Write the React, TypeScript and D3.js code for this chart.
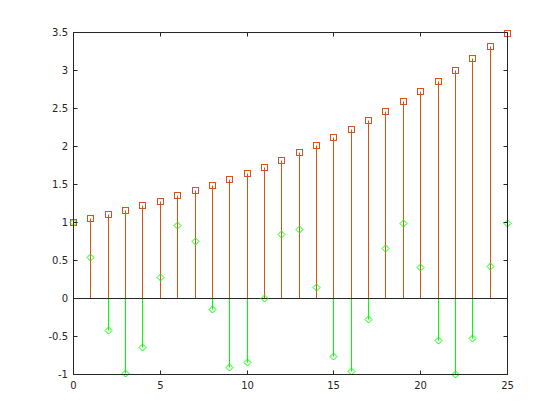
import React from "react";
import * as d3 from "d3";

const xs = [0,1,2,3,4,5,6,7,8,9,10,11,12,13,14,15,16,17,18,19,20,21,22,23,24,25];
const growth = [1.00,1.05,1.11,1.16,1.22,1.28,1.35,1.42,1.49,1.57,1.65,1.73,1.82,1.92,2.01,2.12,2.23,2.34,2.46,2.59,2.72,2.86,3.00,3.16,3.32,3.49];
const wave = [1.00,0.54,-0.42,-0.99,-0.65,0.28,0.96,0.75,-0.15,-0.91,-0.84,0.00,0.84,0.91,0.14,-0.76,-0.96,-0.28,0.66,0.99,0.41,-0.55,-1.00,-0.53,0.42,0.99];
const xTicks = [0,5,10,15,20,25];
const yTicks = [-1,-0.5,0,0.5,1,1.5,2,2.5,3,3.5];

const W = 560, H = 420;
const L = 73, R = 507, T = 32, B = 374;

export default function App() {
  const xs0 = d3.scaleLinear().domain([0, 25]).range([L, R]);
  const ys0 = d3.scaleLinear().domain([-1, 3.5]).range([B, T]);
  const x = (v: number) => Math.round(xs0(v)) + 0.5;
  const y = (v: number) => Math.round(ys0(v)) + 0.5;
  const orange = "#d95319";
  const green = "#00ff00";
  const axis = "#262626";
  const font = "'DejaVu Sans', sans-serif";
  const diamond = (cx: number, cy: number, r: number) =>
    `M${cx},${cy - r}L${cx + r},${cy}L${cx},${cy + r}L${cx - r},${cy}Z`;
  return (
    <svg width={W} height={H} style={{ position: "absolute", left: 0, top: 0, background: "#fff" }}>
      <rect x={0} y={0} width={W} height={H} fill="#fff" />
      {xs.map((d, i) => (
        <line key={"gs" + i} x1={x(d)} x2={x(d)} y1={y(0)} y2={y(wave[i])} stroke={green} strokeWidth={1} />
      ))}
      {xs.map((d, i) => (
        <line key={"os" + i} x1={x(d)} x2={x(d)} y1={y(0)} y2={y(growth[i])} stroke={orange} strokeWidth={1} />
      ))}
      <line x1={x(0)} x2={x(25)} y1={y(0)} y2={y(0)} stroke={axis} strokeWidth={1} />
      {xs.map((d, i) => (
        <rect key={"om" + i} x={x(d) - 3} y={y(growth[i]) - 3} width={6} height={6} fill="none" stroke={orange} strokeWidth={1} />
      ))}
      {xs.map((d, i) => (
        <path key={"gm" + i} d={diamond(x(d), y(wave[i]), 3.5)} fill="none" stroke={green} strokeWidth={1} />
      ))}
      <rect x={x(0)} y={y(3.5)} width={x(25) - x(0)} height={y(-1) - y(3.5)} fill="none" stroke={axis} strokeWidth={1} />
      {xTicks.map((t) => (
        <g key={"xt" + t}>
          <line x1={x(t)} x2={x(t)} y1={y(-1)} y2={y(-1) - 4} stroke={axis} />
          <line x1={x(t)} x2={x(t)} y1={y(3.5)} y2={y(3.5) + 4} stroke={axis} />
          <text x={x(t)} y={B + 15} textAnchor="middle" fontFamily={font} fontSize={10} fill={axis}>{t}</text>
        </g>
      ))}
      {yTicks.map((t) => (
        <g key={"yt" + t}>
          <line x1={x(0)} x2={x(0) + 4} y1={y(t)} y2={y(t)} stroke={axis} />
          <line x1={x(25)} x2={x(25) - 4} y1={y(t)} y2={y(t)} stroke={axis} />
          <text x={L - 5} y={ys0(t) + 3.5} textAnchor="end" fontFamily={font} fontSize={10} fill={axis}>{t}</text>
        </g>
      ))}
    </svg>
  );
}
